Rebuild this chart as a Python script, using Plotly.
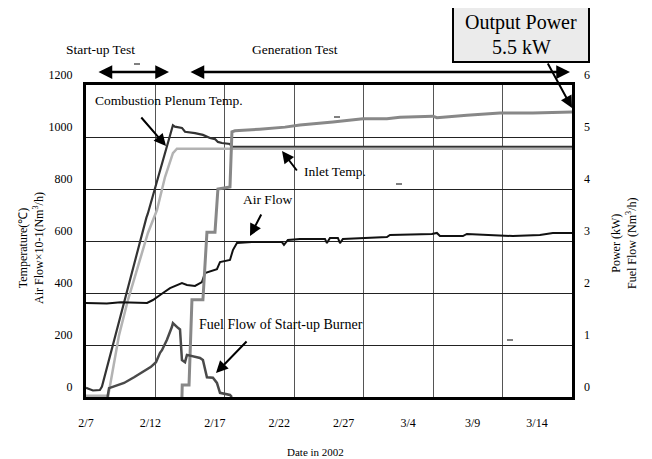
import plotly.graph_objects as go

# ---------------- data (days after 2002-02-07) ----------------
comb_days = [0, 0.5, 1.0, 1.15, 4.35, 4.45, 6.26, 6.4, 6.91, 7.13, 7.85, 8.42, 8.93, 9.29, 9.5, 9.79, 10.37, 10.51, 35]
comb_temp = [35, 25, 27, 40, 690, 705, 1045, 1040, 1035, 1020, 1015, 1008, 996, 992, 981, 977, 973, 962, 962]

inlet_days = [0, 1.6, 2.38, 3.02, 4.46, 5.11, 5.69, 6.26, 6.55, 35]
inlet_temp = [5, 5, 238, 373, 631, 719, 846, 938, 955, 955]

air_days = [0, 1.5, 2.5, 3.5, 4.4, 4.82, 5.11, 5.54, 6.05, 6.55, 6.91, 7.27, 7.85, 8.35, 8.5, 8.57, 9.43, 9.65,
            10.37, 10.58, 10.87, 11.95, 14.11, 14.26, 14.54, 15.41, 17.21, 17.35, 17.57, 18.14, 18.29, 18.5,
            21.67, 21.89, 24.91, 25.27, 25.49, 27.14, 27.43, 29.59, 30.74, 32.69, 33.62, 35]
air_flow = [362, 360, 364, 362, 362, 373, 385, 400, 419, 431, 438, 431, 427, 442, 470, 477, 492, 519,
            527, 565, 592, 596, 596, 585, 604, 608, 608, 592, 612, 612, 592, 608,
            615, 623, 627, 631, 619, 619, 627, 623, 619, 623, 631, 631]

power_days = [6.8, 6.91, 6.93, 7.42, 7.63, 8.35, 8.42, 8.71, 9.29, 9.5, 10.37, 10.51, 10.73, 12.5, 14.33,
              15.41, 17.21, 17.78, 19.94, 21.67, 22.61, 24.98, 25.27, 27.43, 29.81, 32.18, 35]
power_kw = [0, 0, 0.23, 0.23, 1.87, 1.87, 1.87, 3.17, 3.17, 4.0, 4.04, 5.10, 5.12, 5.15, 5.19,
            5.23, 5.27, 5.29, 5.35, 5.35, 5.38, 5.40, 5.37, 5.42, 5.46, 5.46, 5.48]

fuel_days = [1.55, 1.66, 1.87, 2.74, 3.46, 4.32, 4.68, 5.04, 5.33, 5.47, 5.83, 6.19, 6.26, 6.62, 6.77,
             6.91, 7.13, 7.27, 8.21, 8.42, 8.71, 9.14, 9.43, 9.65, 10.37, 10.51]
fuel_flow = [0, 0.17, 0.19, 0.27, 0.38, 0.52, 0.58, 0.67, 0.85, 0.90, 1.10, 1.35, 1.42, 1.33, 1.30,
             0.71, 0.67, 0.81, 0.75, 0.71, 0.38, 0.37, 0.27, 0.08, 0.04, 0]

tick_days = [0, 5, 10, 15, 20, 25, 30, 35]
tick_labels = ["2/7", "2/12", "2/17", "2/22", "2/27", "3/4", "3/9", "3/14"]

# ---------------- layout geometry (page pixels; page body has an 8px margin) ----------------
OFF = 8
W, H = 652 - OFF, 459 - OFF
PL, PR, PT, PB = 86, 572, 85, 397          # plot area on the page
L, R, T, B = PL - OFF, PR - OFF, PT - OFF, PB - OFF


def px(x):
    return (x - PL) / (PR - PL)


def py(y):
    return (PB - y) / (PB - PT)


FONT = "Liberation Serif"
LAB = 13.5

fig = go.Figure()
fig.add_trace(go.Scatter(x=comb_days, y=comb_temp, mode="lines", line=dict(color="#333333", width=2.2),
                         name="Combustion Plenum Temp."))
fig.add_trace(go.Scatter(x=inlet_days, y=inlet_temp, mode="lines", line=dict(color="#b3b3b3", width=2.5),
                         name="Inlet Temp."))
fig.add_trace(go.Scatter(x=air_days, y=air_flow, mode="lines", line=dict(color="#111111", width=2),
                         name="Air Flow"))
fig.add_trace(go.Scatter(x=power_days, y=power_kw, mode="lines", line=dict(color="#888888", width=3),
                         name="Power", yaxis="y2"))
fig.add_trace(go.Scatter(x=fuel_days, y=fuel_flow, mode="lines", line=dict(color="#4a4a4a", width=2.5),
                         name="Fuel Flow of Start-up Burner", yaxis="y2"))
# carrier for the tick-label axis
fig.add_trace(go.Scatter(x=[tick_days[0]], y=[None], xaxis="x2", mode="lines", showlegend=False,
                         hoverinfo="skip"))

annotations = []


def text(x, y, s, size=12, xanchor="center", **kw):
    annotations.append(dict(x=px(x), y=py(y), xref="paper", yref="paper", text=s, showarrow=False,
                            xanchor=xanchor, yanchor="middle",
                            font=dict(family=FONT, size=size, color="black"), **kw))


def arrow(x0, y0, x1, y1, both=False, width=2, size=1.2):
    annotations.append(dict(x=px(x1), y=py(y1), ax=x0 - x1, ay=y0 - y1, xref="paper", yref="paper",
                            axref="pixel", ayref="pixel", text="", showarrow=True, arrowhead=2,
                            arrowsize=size, arrowwidth=width, arrowcolor="black",
                            arrowside="end+start" if both else "end", startarrowhead=2,
                            startarrowsize=size, standoff=0, startstandoff=0))


text(100, 50, "Start-up Test", size=LAB)
text(295, 50, "Generation Test", size=LAB)
arrow(97, 72, 169, 72, both=True, width=2.5, size=1.1)
arrow(189, 72, 570, 72, both=True, width=2.5, size=1.1)

text(93, 100, "Combustion Plenum Temp.", size=LAB, xanchor="left")
arrow(140, 116, 166, 146)
text(302, 171, "Inlet Temp.", size=LAB, xanchor="left")
arrow(298, 172, 282, 151)
text(241, 199, "Air Flow", size=LAB, xanchor="left")
arrow(262, 213, 250, 236)
text(197, 324, "Fuel Flow of Start-up Burner", size=14, xanchor="left")
arrow(248, 340, 216, 373)

text(315, 452, "Date in 2002", size=11)
text(31, 248, "Temperature(\u2103)<br>Air Flow\u00d710-1(Nm<sup>3</sup>/h)", textangle=-90)
text(624, 243, "Power (kW)<br>Fuel Flow (Nm<sup>3</sup>/h)", textangle=-90)

text(521, 22, "Output Power", size=20)
text(521, 47, "5.5 kW", size=20)
arrow(547, 62, 572, 108)

shapes = [dict(type="rect", xref="paper", yref="paper", x0=px(453), x1=px(589), y0=py(62), y1=py(7),
               fillcolor="#ebebeb", line=dict(color="black", width=2), layer="below")]
for (dx, dy) in [(137, 64), (337, 117), (399, 184), (510, 340)]:
    shapes.append(dict(type="line", xref="paper", yref="paper", x0=px(dx - 3), x1=px(dx + 3), y0=py(dy),
                       y1=py(dy), line=dict(color="black", width=1)))

fig.update_layout(
    width=W, height=H,
    margin=dict(l=L, r=W - R, t=T, b=H - B, pad=0),
    paper_bgcolor="white", plot_bgcolor="white",
    showlegend=False,
    font=dict(family=FONT, size=12, color="black"),
    xaxis=dict(range=[0, 35], tick0=0, dtick=5, showgrid=True, gridcolor="#555555", gridwidth=1,
               showticklabels=False, ticks="", showline=True, linecolor="black", linewidth=3, mirror=True,
               zeroline=False),
    xaxis2=dict(overlaying="x", anchor="y", side="bottom", range=[0, 35 * (PR - PL) / (537 - PL)],
                tickmode="array", tickvals=tick_days, ticktext=tick_labels, showgrid=False, showline=False,
                zeroline=False, ticks="", ticklabelstandoff=17,
                tickfont=dict(family=FONT, size=12, color="black")),
    yaxis=dict(range=[0, 1200], tick0=0, dtick=200, showgrid=True, gridcolor="#222222", gridwidth=1,
               showline=True, linecolor="black", linewidth=3, mirror=True, ticks="", zeroline=False,
               ticklabelshift=-10, ticklabelstandoff=8, tickfont=dict(family=FONT, size=12, color="black")),
    yaxis2=dict(range=[0, 6], tick0=0, dtick=1, overlaying="y", side="right", showgrid=False,
                showline=False, ticks="", zeroline=False, ticklabelshift=-10, ticklabelstandoff=11,
                tickfont=dict(family=FONT, size=12, color="black")),
    annotations=annotations,
    shapes=shapes,
)

fig.write_html("out.html")
